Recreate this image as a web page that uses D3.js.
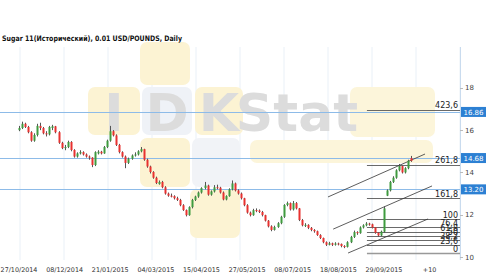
<!DOCTYPE html>
<html>
<head>
<meta charset="utf-8">
<script src="https://cdn.jsdelivr.net/npm/d3@7"></script>
<style>
body { margin: 0; background: #fff; }
svg { display: block; font-family: "DejaVu Sans", sans-serif; }
</style>
</head>
<body>
<div id="chart"></div>
<script>

// chart data
var title = "Sugar 11(Исторический), 0.01 USD/POUNDS, Daily";

var dateLabels = ["27/10/2014", "08/12/2014", "21/01/2015", "04/03/2015", "15/04/2015",
    "27/05/2015", "08/07/2015", "18/08/2015", "29/09/2015", "+10"];
var dateIndex = [0, 15, 30, 45, 60, 75, 90, 105, 120, 135];

var yTicks = [10, 12, 14, 16, 18];

// horizontal levels with price boxes
var levelValues = [16.86, 14.68, 13.20];
var levelLabels = ["16.86", "14.68", "13.20"];

// fibonacci expansion
var fibNames = ["0", "23,6", "38,2", "50", "61,8", "76,4", "100", "161,8", "261,8", "423,6"];
var fibRatios = [0, 0.236, 0.382, 0.5, 0.618, 0.764, 1, 1.618, 2.618, 4.236];
var fibRange = [10.18, 11.78];
var fibSpan = [114.4, 145];

// channel lines: [[bar, price], [bar, price]]
var channel = [
    [[101.6, 12.84], [133.5, 14.87]],
    [[103.3, 11.32], [135.8, 13.36]],
    [[108.2, 10.19], [134.5, 11.80]]
];

// candles: [open, high, low, close]
var candles = [
    [16.0,16.2,15.95,16.1],[16.1,16.4,16.05,16.3],[16.3,16.35,16.1,16.15],[16.15,16.2,15.85,15.9],
    [15.9,15.95,15.45,15.5],[15.5,15.85,15.45,15.77],[15.77,16.3,15.7,16.2],[16.2,16.35,16.0,16.1],
    [16.1,16.15,15.8,15.85],[15.85,15.95,15.7,15.8],[15.8,16.2,15.75,16.15],[16.1,16.25,16.0,16.18],
    [16.18,16.2,15.85,15.9],[15.9,15.95,15.35,15.4],[15.4,15.45,15.1,15.15],[15.15,15.3,15.05,15.2],
    [15.2,15.5,15.15,15.44],[15.44,15.48,15.0,15.06],[15.06,15.1,14.7,14.75],[14.75,14.95,14.7,14.9],
    [14.9,15.05,14.85,14.96],[14.96,15.0,14.8,14.85],[14.85,14.9,14.7,14.75],[14.75,14.8,14.6,14.7],
    [14.7,14.72,14.25,14.35],[14.35,15.0,14.3,14.96],[14.9,15.05,14.85,14.98],[14.98,15.02,14.85,14.9],
    [14.9,15.25,14.88,15.2],[15.2,15.55,15.15,15.5],[15.5,16.2,15.45,15.95],[15.95,16.0,15.7,15.75],
    [15.75,15.8,15.25,15.3],[15.3,15.35,14.9,14.96],[14.96,15.0,14.7,14.75],[14.75,14.8,14.2,14.45],
    [14.45,14.7,14.4,14.65],[14.65,14.85,14.6,14.8],[14.8,14.95,14.75,14.85],[14.85,15.05,14.8,15.0],
    [15.0,15.2,14.95,15.1],[15.1,15.12,14.55,14.6],[14.6,14.65,14.22,14.28],[14.28,14.32,13.95,14.02],
    [14.02,14.06,13.7,13.75],[13.75,13.8,13.45,13.5],[13.45,13.62,13.42,13.55],[13.55,13.6,13.25,13.3],
    [13.3,13.35,12.95,13.0],[13.0,13.05,12.85,12.9],[12.9,13.0,12.82,12.88],[12.88,12.92,12.72,12.78],
    [12.78,12.85,12.65,12.7],[12.7,12.75,12.4,12.45],[12.45,12.5,12.18,12.22],[12.22,12.25,11.92,11.98],
    [11.98,12.4,11.95,12.36],[12.36,12.75,12.3,12.7],[12.7,12.9,12.65,12.86],[12.86,13.1,12.8,13.05],
    [13.05,13.3,13.0,13.26],[13.26,13.55,13.2,13.38],[13.38,13.42,12.9,12.95],[12.95,13.15,12.9,13.1],
    [13.1,13.4,13.05,13.3],[13.3,13.42,13.2,13.28],[13.28,13.32,13.0,13.05],[13.05,13.1,12.68,12.72],
    [12.72,12.92,12.68,12.88],[12.88,13.25,12.85,13.2],[13.2,13.62,13.15,13.48],[13.48,13.52,13.1,13.15],
    [13.15,13.2,12.95,13.0],[13.0,13.05,12.72,12.78],[12.78,12.8,12.4,12.45],[12.45,12.5,12.05,12.1],
    [12.1,12.15,11.92,11.98],[11.98,12.28,11.95,12.22],[12.22,12.3,12.12,12.2],[12.2,12.25,12.08,12.13],
    [12.13,12.18,11.92,11.98],[11.98,12.0,11.68,11.72],[11.72,11.75,11.4,11.45],[11.45,11.5,11.22,11.28],
    [11.28,11.48,11.25,11.42],[11.42,11.65,11.38,11.6],[11.6,11.95,11.55,11.9],[11.9,12.5,11.85,12.46],
    [12.46,12.62,12.4,12.55],[12.55,12.58,12.2,12.25],[12.25,12.65,12.2,12.55],[12.55,12.6,12.25,12.3],
    [12.3,12.32,11.7,11.75],[11.75,11.8,11.45,11.5],[11.5,11.6,11.42,11.52],[11.52,11.55,11.32,11.38],
    [11.38,11.42,11.22,11.28],[11.28,11.32,11.15,11.22],[11.22,11.25,11.0,11.04],[11.04,11.08,10.85,10.9],
    [10.9,10.92,10.65,10.7],[10.7,10.74,10.52,10.58],[10.58,10.72,10.55,10.65],[10.65,10.68,10.52,10.58],
    [10.58,10.7,10.54,10.64],[10.64,10.68,10.55,10.62],[10.62,10.64,10.46,10.52],[10.52,10.56,10.42,10.48],
    [10.48,10.75,10.45,10.7],[10.7,11.0,10.66,10.95],[10.95,11.25,10.9,11.18],[11.18,11.22,11.05,11.13],
    [11.13,11.45,11.1,11.4],[11.4,11.55,11.35,11.5],[11.5,11.65,11.45,11.58],[11.58,11.62,11.48,11.55],
    [11.55,11.58,11.35,11.4],[11.4,11.42,11.1,11.15],[11.15,11.18,10.96,11.02],[11.02,11.25,10.98,11.2],
    [11.2,12.4,11.15,12.3],[12.9,13.2,12.88,13.15],[13.15,13.6,13.1,13.55],[13.55,13.82,13.5,13.75],
    [13.75,14.15,13.7,14.1],[14.1,14.4,14.05,14.3],[14.3,14.32,13.95,14.0],[14.0,14.25,13.95,14.2],
    [14.2,14.6,14.15,14.55],[14.68,14.78,14.5,14.55]
];

// dimensions
var W = 500, H = 280;
var plot = {left: 0, right: 460, top: 47, bottom: 260};

var svg = d3.select("#chart")
    .append("svg")
    .attr("width", W)
    .attr("height", H);

// scales: bar index -> x, price -> y
var x = d3.scaleLinear()
    .domain([0, 145])
    .range([19, plot.right]);

var y = d3.scaleLinear()
    .domain([9.86, 19.93])
    .range([plot.bottom, plot.top]);

// vertical background grid
svg.append("g")
    .selectAll("line")
    .data(d3.range(20, plot.right + 1, 44))
    .enter().append("line")
    .attr("x1", d => d).attr("x2", d => d)
    .attr("y1", plot.top).attr("y2", plot.bottom)
    .attr("stroke", "#e9f0f7")
    .attr("stroke-width", 1);

// watermark tiles
var tiles = [
    [140, 42, 50, 43, "#fcf3d3"],
    [88, 87, 52, 48, "#fcf3d3"],
    [142, 87, 50, 48, "#eff2f7"],
    [195, 87, 48, 48, "#fcf3d3"],
    [140, 138, 50, 49, "#fcf3d3"],
    [192, 138, 48, 49, "#f1f3f7"],
    [190, 189, 50, 49, "#fcf3d3"],
    [350, 87, 85, 50, "#fcf5da"],
    [250, 140, 183, 23, "#fcf5da"]
];
var wm = svg.append("g");
wm.selectAll("rect")
    .data(tiles)
    .enter().append("rect")
    .attr("x", d => d[0]).attr("y", d => d[1])
    .attr("width", d => d[2]).attr("height", d => d[3])
    .attr("rx", 7)
    .attr("fill", d => d[4]);

var wmText = [["I", 114], ["D", 167], ["K", 219], ["Stat", 297]];
wm.selectAll("text")
    .data(wmText)
    .enter().append("text")
    .attr("x", d => d[1])
    .attr("y", 131)
    .attr("text-anchor", "middle")
    .style("font-size", "52px")
    .style("font-weight", "bold")
    .attr("fill", "#dcdcdc")
    .text(d => d[0]);

// right axis line
svg.append("line")
    .attr("x1", plot.right + 0.5).attr("x2", plot.right + 0.5)
    .attr("y1", plot.top).attr("y2", plot.bottom)
    .attr("stroke", "#c9dbee");

// blue horizontal levels
svg.append("g")
    .selectAll("line")
    .data(levelValues)
    .enter().append("line")
    .attr("x1", 0).attr("x2", plot.right)
    .attr("y1", d => Math.round(y(d)) + 0.5).attr("y2", d => Math.round(y(d)) + 0.5)
    .attr("stroke", "#8dbbe8")
    .attr("stroke-width", 1);

// fibonacci levels
var fibPrice = function(r) { return fibRange[0] + r * (fibRange[1] - fibRange[0]); };
var fib = svg.append("g");
fib.selectAll("line")
    .data(fibRatios)
    .enter().append("line")
    .attr("x1", x(fibSpan[0])).attr("x2", x(fibSpan[1]))
    .attr("y1", d => Math.round(y(fibPrice(d))) + 0.5)
    .attr("y2", d => Math.round(y(fibPrice(d))) + 0.5)
    .attr("stroke", (d, i) => i === 0 ? "#999" : "#444")
    .attr("stroke-width", (d, i) => i === 0 ? 1.5 : 0.8);

fib.selectAll("text")
    .data(fibRatios)
    .enter().append("text")
    .attr("x", plot.right - 2)
    .attr("y", d => y(fibPrice(d)) - 1.5)
    .attr("text-anchor", "end")
    .style("font-size", "8px")
    .attr("fill", "#222")
    .text((d, i) => fibNames[i]);

// channel lines
svg.append("g")
    .selectAll("line")
    .data(channel)
    .enter().append("line")
    .attr("x1", d => x(d[0][0])).attr("y1", d => y(d[0][1]))
    .attr("x2", d => x(d[1][0])).attr("y2", d => y(d[1][1]))
    .attr("stroke", "#333")
    .attr("stroke-width", 0.8);

// candles
var bars = svg.append("g")
    .selectAll("g")
    .data(candles)
    .enter().append("g");

bars.append("line")
    .attr("x1", (d, i) => Math.round(x(i)) + 0.5)
    .attr("x2", (d, i) => Math.round(x(i)) + 0.5)
    .attr("y1", d => y(d[1]))
    .attr("y2", d => y(d[2]))
    .attr("stroke", "#555")
    .attr("stroke-width", 1);

bars.append("rect")
    .attr("x", (d, i) => Math.round(x(i)) - 0.5)
    .attr("width", 2)
    .attr("y", d => y(Math.max(d[0], d[3])))
    .attr("height", d => Math.max(1, Math.abs(y(d[0]) - y(d[3]))))
    .attr("fill", d => d[3] >= d[0] ? "#3f9b3f" : "#e8312f");

// right axis tick labels
var yAxis = svg.append("g");
yAxis.selectAll("line")
    .data(yTicks)
    .enter().append("line")
    .attr("x1", plot.right).attr("x2", plot.right + 3)
    .attr("y1", d => Math.round(y(d)) + 0.5).attr("y2", d => Math.round(y(d)) + 0.5)
    .attr("stroke", "#bbb");
yAxis.selectAll("text")
    .data(yTicks)
    .enter().append("text")
    .attr("x", plot.right + 5)
    .attr("y", d => y(d) + 2.5)
    .style("font-size", "7px")
    .attr("fill", "#444")
    .text(d => d);

// price boxes for the blue levels
var boxes = svg.append("g")
    .selectAll("g")
    .data(levelValues)
    .enter().append("g");
boxes.append("rect")
    .attr("x", plot.right + 1)
    .attr("y", d => y(d) - 5)
    .attr("width", 25)
    .attr("height", 10)
    .attr("fill", "#2c80d3");
boxes.append("text")
    .attr("x", plot.right + 13.5)
    .attr("y", d => y(d) + 2.6)
    .attr("text-anchor", "middle")
    .style("font-size", "7px")
    .attr("fill", "#fff")
    .text((d, i) => levelLabels[i]);

// date labels
svg.append("g")
    .selectAll("text")
    .data(dateIndex)
    .enter().append("text")
    .attr("x", d => x(d))
    .attr("y", 272)
    .attr("text-anchor", "middle")
    .style("font-size", "6.4px")
    .attr("fill", "#333")
    .text((d, i) => dateLabels[i]);

// title
svg.append("text")
    .attr("x", 2)
    .attr("y", 41)
    .style("font-size", "7.5px")
    .style("font-weight", "bold")
    .attr("fill", "#111")
    .attr("textLength", 180)
    .attr("lengthAdjust", "spacingAndGlyphs")
    .text(title);

</script>
</body>
</html>
